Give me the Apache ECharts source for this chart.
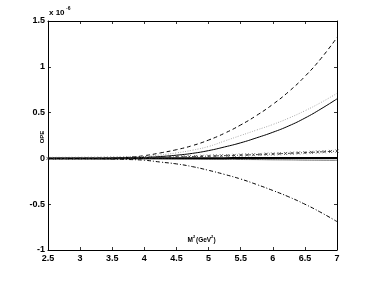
<!DOCTYPE html>
<html>
<head>
<meta charset="utf-8">
<script src="https://cdn.jsdelivr.net/npm/echarts@6/dist/echarts.min.js"></script>
<style>html,body{margin:0;padding:0;background:#fff}#c{width:373px;height:282px}</style>
</head>
<body>
<div id="c"></div>
<script>
var xs = [2.5,2.75,3,3.25,3.5,3.75,4,4.25,4.5,4.75,5,5.25,5.5,5.75,6,6.25,6.5,6.75,7];
var dashedVals = [0,0,0,0.001,0.004,0.012,0.03,0.06,0.095,0.14,0.20,0.275,0.365,0.47,0.59,0.73,0.895,1.09,1.32];
var dottedVals = [0,0,0,0.001,0.003,0.008,0.02,0.038,0.06,0.09,0.13,0.19,0.25,0.31,0.37,0.44,0.52,0.61,0.71];
var solidVals  = [0,0,0,0,0.002,0.005,0.01,0.02,0.035,0.055,0.085,0.125,0.17,0.225,0.285,0.355,0.44,0.54,0.65];
var zeroBlackVals = [0,0,0,0,0,0.001,0.001,0.002,0.002,0.003,0.003,0.003,0.004,0.004,0.004,0.005,0.005,0.005,0.005];
var zeroGrayVals  = [0,0,0,0,-0.001,-0.002,-0.003,-0.004,-0.006,-0.007,-0.009,-0.01,-0.012,-0.013,-0.015,-0.016,-0.018,-0.019,-0.02];
var dashDotVals = [0,0,0,-0.002,-0.006,-0.012,-0.02,-0.04,-0.06,-0.09,-0.13,-0.175,-0.225,-0.285,-0.35,-0.42,-0.50,-0.59,-0.69];
var xsFine = [2.5,2.6,2.7,2.8,2.9,3.0,3.1,3.2,3.3,3.4,3.5,3.6,3.7,3.8,3.9,4.0,4.1,4.2,4.3,4.4,4.5,4.6,4.7,4.8,4.9,5.0,5.1,5.2,5.3,5.4,5.5,5.6,5.7,5.8,5.9,6.0,6.1,6.2,6.3,6.4,6.5,6.6,6.7,6.8,6.9,7.0];
var markerVals = [0,0,0.0002,0.0004,0.0006,0.001,0.0014,0.0019,0.0025,0.0032,0.004,0.0048,0.0057,0.0067,0.0077,0.0089,0.010,0.0114,0.0128,0.0143,0.0158,0.0174,0.019,0.021,0.023,0.025,0.027,0.029,0.031,0.033,0.036,0.038,0.040,0.043,0.046,0.048,0.051,0.054,0.057,0.060,0.063,0.066,0.070,0.073,0.076,0.080];
var xTickLabels = {2.5:'2.5',3:'3',3.5:'3.5',4:'4',4.5:'4.5',5:'5',5.5:'5.5',6:'6',6.5:'6.5',7:'7'};
var yTickLabels = {'1.5':'1.5','1':'1','0.5':'0.5','0':'0','-0.5':'-0.5','-1':'-1'};

function pairs(x, y){ return x.map(function(v,i){ return [v, y[i]]; }); }

var font = 'Liberation Sans, Arial, Helvetica, sans-serif';
var chart = echarts.init(document.getElementById('c'), null, {renderer:'canvas'});
var axisCommon = {
  axisLine:{show:true, onZero:false, lineStyle:{color:'#000', width:1}},
  axisTick:{show:true, inside:true, length:3, lineStyle:{color:'#000', width:0.8}},
  splitLine:{show:false}
};
chart.setOption({
  animation:false,
  grid:{left:48, right:36, top:21, bottom:32, containLabel:false},
  xAxis:[
    Object.assign({type:'value', min:2.5, max:7, interval:0.5, position:'bottom',
      axisLabel:{margin:4, color:'#000', fontFamily:font, fontSize:9, fontWeight:'bold',
        formatter:function(v){ return xTickLabels[v] !== undefined ? xTickLabels[v] : ''; }}}, axisCommon),
    Object.assign({type:'value', min:2.5, max:7, interval:0.5, position:'top', axisLabel:{show:false}}, axisCommon)
  ],
  yAxis:[
    Object.assign({type:'value', min:-1, max:1.5, interval:0.5, position:'left',
      axisLabel:{margin:3, color:'#000', fontFamily:font, fontSize:9, fontWeight:'bold',
        formatter:function(v){ var k = String(Math.round(v*10)/10); return yTickLabels[k] !== undefined ? yTickLabels[k] : k; }}}, axisCommon),
    Object.assign({type:'value', min:-1, max:1.5, interval:0.5, position:'right', axisLabel:{show:false}}, axisCommon)
  ],
  graphic:[
    {type:'text', left:49, top:9, style:{text:'x 10', fill:'#000', font:'bold 8px '+font}},
    {type:'text', left:66, top:6, style:{text:'-6', fill:'#000', font:'bold 5px '+font}},
    {type:'text', x:42, y:137, rotation:Math.PI/2, style:{text:'OPE', fill:'#000', font:'bold 6px '+font, align:'center', verticalAlign:'middle'}},
    {type:'text', x:193, y:240, style:{text:'M', fill:'#000', font:'bold 6.5px '+font, align:'right', verticalAlign:'middle'}},
    {type:'text', x:193, y:237, style:{text:'2', fill:'#000', font:'bold 4px '+font, align:'left', verticalAlign:'middle'}},
    {type:'text', x:196, y:240, style:{text:'(GeV', fill:'#000', font:'bold 6.5px '+font, align:'left', verticalAlign:'middle'}},
    {type:'text', x:211, y:237, style:{text:'2', fill:'#000', font:'bold 4px '+font, align:'left', verticalAlign:'middle'}},
    {type:'text', x:213.5, y:240, style:{text:')', fill:'#000', font:'bold 6.5px '+font, align:'left', verticalAlign:'middle'}}
  ],
  series:[
    {type:'line', data:pairs(xs, dashedVals), smooth:true, showSymbol:false, lineStyle:{color:'#000', width:1, type:[4,3]}},
    {type:'line', data:pairs(xs, dottedVals), smooth:true, showSymbol:false, lineStyle:{color:'#aaa', width:1, type:[1,1.5]}},
    {type:'line', data:pairs(xs, solidVals), smooth:true, showSymbol:false, lineStyle:{color:'#000', width:1}},
    {type:'line', data:pairs(xs, zeroGrayVals), smooth:true, showSymbol:false, lineStyle:{color:'#666', width:1}},
    {type:'line', data:pairs(xs, zeroBlackVals), smooth:true, showSymbol:false, lineStyle:{color:'#000', width:2}},
    {type:'line', data:pairs(xsFine, markerVals), smooth:true, symbol:'path://M0,0L10,10M10,0L0,10', symbolSize:3,
      itemStyle:{color:'none', borderColor:'#333', borderWidth:0.8},
      lineStyle:{color:'#333', width:1, type:[3,2,1,2]}},
    {type:'line', data:pairs(xs, dashDotVals), smooth:true, showSymbol:false, lineStyle:{color:'#000', width:1, type:[4,2,1,2]}}
  ]
});
</script>
</body>
</html>
